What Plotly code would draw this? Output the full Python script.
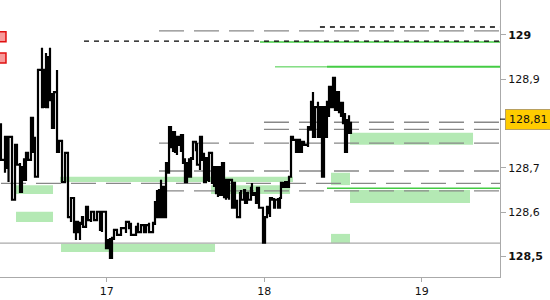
import plotly.graph_objects as go

# ---------------- data ----------------
# bar times in hours since 16th 00:00
bar_hour = [7.89, 8.50, 8.81, 9.04, 9.57, 10.03, 10.33, 10.79, 11.09, 11.40, 11.70, 12.01, 12.46, 12.77, 13.07,
            13.53, 14.14, 14.45, 14.75, 15.06, 15.36, 15.66, 15.97, 16.43, 16.73, 17.19, 17.65, 18.10, 18.56,
            19.02, 19.32, 19.63, 19.93, 20.24, 20.39, 20.85, 21.15, 21.61, 22.07, 22.52, 22.98, 23.28, 23.89,
            24.20, 24.50, 24.81, 25.11, 25.57, 26.18, 26.94, 27.40, 27.70, 28.47, 28.77, 29.23, 29.69, 29.99,
            30.45, 31.06, 31.36, 31.67, 31.97, 32.28, 32.58, 32.73, 33.04, 33.34, 33.50, 33.80, 34.11, 34.41,
            34.71, 35.02, 35.32, 35.63, 35.93, 36.24, 36.54, 36.85, 37.15, 37.61, 37.76, 38.22, 38.52, 38.83,
            39.13, 39.29, 39.59, 40.05, 40.35, 40.66, 40.96, 41.27, 41.57, 41.88, 42.18, 42.33, 42.64, 43.10,
            43.25, 43.55, 43.86, 44.32, 44.47, 44.93, 45.08, 45.38, 45.54, 45.99, 46.14, 46.45, 46.75, 46.91,
            47.21, 47.82, 48.13, 48.43, 48.58, 48.89, 49.19, 49.50, 49.65, 50.11, 50.41, 50.56, 50.87, 51.17,
            51.48, 51.78, 52.09, 52.39, 52.85, 53.16, 53.46, 53.76, 54.07, 54.68, 54.98, 55.14, 55.44, 55.75,
            56.20, 56.51, 56.81, 57.12, 57.42, 57.57, 57.88, 58.18, 58.49, 58.79, 59.10, 59.40, 59.71, 60.01,
            60.32, 60.62, 60.93, 61.23]
bar_high = [128.801, 128.770, 128.747, 128.770, 128.770, 128.752, 128.752, 128.711, 128.702, 128.722, 128.734,
            128.734, 128.813, 128.752, 128.770, 128.921, 128.971, 128.921, 128.959, 128.950, 128.971, 128.869,
            128.871, 128.921, 128.761, 128.747, 128.734, 128.702, 128.632, 128.587, 128.578, 128.567, 128.576,
            128.589, 128.589, 128.612, 128.598, 128.601, 128.601, 128.601, 128.601, 128.601, 128.553, 128.537,
            128.542, 128.542, 128.560, 128.560, 128.564, 128.578, 128.571, 128.576, 128.567, 128.576, 128.571,
            128.571, 128.571, 128.576, 128.576, 128.623, 128.650, 128.650, 128.673, 128.657, 128.657, 128.711,
            128.711, 128.792, 128.763, 128.781, 128.781, 128.770, 128.763, 128.774, 128.725, 128.722, 128.711,
            128.722, 128.722, 128.759, 128.759, 128.756, 128.770, 128.734, 128.734, 128.722, 128.722, 128.734,
            128.702, 128.702, 128.680, 128.702, 128.673, 128.711, 128.680, 128.673, 128.673, 128.673, 128.668,
            128.666, 128.632, 128.628, 128.643, 128.650, 128.650, 128.646, 128.643, 128.646, 128.655, 128.666,
            128.643, 128.643, 128.655, 128.632, 128.589, 128.589, 128.612, 128.612, 128.632, 128.632, 128.632,
            128.628, 128.632, 128.632, 128.666, 128.668, 128.668, 128.668, 128.680, 128.770, 128.770, 128.759,
            128.763, 128.759, 128.759, 128.756, 128.792, 128.792, 128.849, 128.871, 128.837, 128.849, 128.837,
            128.837, 128.837, 128.801, 128.849, 128.883, 128.883, 128.903, 128.871, 128.871, 128.860, 128.847,
            128.824, 128.824, 128.808, 128.819, 128.804]
bar_low = [128.718, 128.689, 128.700, 128.668, 128.628, 128.673, 128.707, 128.646, 128.657, 128.673, 128.700,
           128.718, 128.729, 128.736, 128.680, 128.680, 128.837, 128.835, 128.837, 128.932, 128.853, 128.790,
           128.853, 128.736, 128.740, 128.668, 128.668, 128.589, 128.578, 128.555, 128.537, 128.555, 128.537,
           128.571, 128.567, 128.571, 128.582, 128.578, 128.582, 128.587, 128.560, 128.555, 128.519, 128.519,
           128.497, 128.533, 128.537, 128.549, 128.553, 128.553, 128.564, 128.549, 128.555, 128.555, 128.560,
           128.555, 128.555, 128.555, 128.571, 128.571, 128.589, 128.589, 128.589, 128.589, 128.589, 128.650,
           128.689, 128.711, 128.747, 128.736, 128.736, 128.729, 128.752, 128.736, 128.711, 128.668, 128.691,
           128.680, 128.680, 128.718, 128.740, 128.707, 128.695, 128.718, 128.668, 128.680, 128.673, 128.668,
           128.666, 128.657, 128.643, 128.634, 128.639, 128.643, 128.634, 128.628, 128.634, 128.628, 128.610,
           128.610, 128.610, 128.589, 128.610, 128.628, 128.646, 128.621, 128.621, 128.628, 128.639, 128.639,
           128.639, 128.621, 128.628, 128.610, 128.531, 128.589, 128.589, 128.598, 128.589, 128.628, 128.610,
           128.610, 128.610, 128.632, 128.632, 128.657, 128.664, 128.657, 128.668, 128.680, 128.763, 128.736,
           128.759, 128.736, 128.736, 128.752, 128.747, 128.786, 128.786, 128.770, 128.779, 128.770, 128.786,
           128.680, 128.770, 128.770, 128.770, 128.815, 128.837, 128.853, 128.831, 128.847, 128.826, 128.815,
           128.801, 128.736, 128.779, 128.779, 128.790]

last_price = 128.81

# horizontal levels
support_price = 128.530
gray_levels = [129.009, 128.803, 128.787, 128.756, 128.693, 128.665, 128.648]
gray_start = [31.97, 47.97, 47.97, 31.97, 31.97, 7.89, 31.97]
black_levels = [128.986, 129.018]
black_start = [20.54, 56.50]
green_levels = [128.984, 128.928, 128.928, 128.654]
green_start = [47.36, 49.65, 57.57, 57.57]
green_end = [84.0, 57.57, 84.0, 84.0]

# green zones
zone_t0 = [10.18, 10.18, 17.04, 16.88, 39.90, 58.18, 61.08, 58.18, 61.08]
zone_t1 = [15.82, 15.82, 40.51, 52.39, 51.94, 61.08, 79.37, 61.08, 79.83]
zone_lo = [128.641, 128.578, 128.510, 128.668, 128.641, 128.661, 128.621, 128.530, 128.752]
zone_hi = [128.661, 128.601, 128.529, 128.680, 128.661, 128.689, 128.650, 128.551, 128.779]

# red markers
alert_hour = [7.89, 7.89]
alert_price = [128.996, 128.948]

# axes
x_ticks = [24, 48, 72]
x_labels = ["17", "18", "19"]
y_ticks = [129.0, 128.9, 128.7, 128.6, 128.5]
y_labels = ["<b>129</b>", "128,9", "128,7", "128,6", "<b>128,5</b>"]

X_MIN, X_MAX = 7.74, 83.94
Y_MIN, Y_MAX = 128.4537, 129.0789

# ---------------- figure ----------------
fig = go.Figure()

for t0, t1, lo, hi in zip(zone_t0, zone_t1, zone_lo, zone_hi):
    fig.add_shape(type="rect", xref="x", yref="y", x0=t0, x1=t1, y0=lo, y1=hi,
                  fillcolor="#b4e9b4", line_width=0, layer="below")

fig.add_trace(go.Scatter(x=[X_MIN, 84.0], y=[support_price] * 2, mode="lines",
                         line=dict(color="#aaaaaa", width=1.2), hoverinfo="skip"))

for p, s in zip(gray_levels, gray_start):
    fig.add_trace(go.Scatter(x=[s, 84.0], y=[p, p], mode="lines",
                             line=dict(color="#888888", width=1.3, dash="25px,10px"), hoverinfo="skip"))

green_w = [1.5, 1, 2, 1.5]
for p, s, e, w in zip(green_levels, green_start, green_end, green_w):
    fig.add_trace(go.Scatter(x=[s, e], y=[p, p], mode="lines",
                             line=dict(color="#44cc44", width=w), hoverinfo="skip"))

for p, s in zip(black_levels, black_start):
    fig.add_trace(go.Scatter(x=[s, 84.0], y=[p, p], mode="lines",
                             line=dict(color="#000000", width=1.4, dash="5px,5px"), hoverinfo="skip"))

# price path built from bar ranges
path_t, path_p = [], []
prev = None
for t, lo, hi in zip(bar_hour, bar_low, bar_high):
    if prev is None or abs(prev - hi) < abs(prev - lo):
        first, second = hi, lo
    else:
        first, second = lo, hi
    path_t += [t, t]
    path_p += [first, second]
    prev = second

fig.add_trace(go.Scatter(x=path_t, y=path_p, mode="lines", line_shape="hv",
                         line=dict(color="#000000", width=2.2)))

fig.add_trace(go.Scatter(x=alert_hour, y=alert_price, mode="markers",
                         marker=dict(symbol="square", size=10, color="#f79a9a",
                                     line=dict(color="#e01010", width=1.5))))

# last price marker
fig.add_shape(type="line", xref="paper", yref="y", x0=1.0, x1=1.01, y0=last_price, y1=last_price,
              line=dict(color="#000000", width=1))
fig.add_annotation(xref="paper", yref="y", x=1.0, y=last_price, xanchor="left", yanchor="middle",
                   xshift=5, text="128,81", showarrow=False,
                   font=dict(family="DejaVu Sans", size=11, color="#111111"),
                   bgcolor="#ffcc00", bordercolor="#b8a060", borderwidth=1, borderpad=3)

fig.update_layout(
    width=550, height=300, margin=dict(l=0, r=50, t=0, b=23),
    paper_bgcolor="white", plot_bgcolor="white", showlegend=False,
    font=dict(family="DejaVu Sans", size=11, color="#111111"),
    xaxis=dict(range=[X_MIN, X_MAX], tickvals=x_ticks, ticktext=x_labels, showgrid=False,
               zeroline=False, showline=True, linecolor="#aaaaaa", linewidth=1,
               ticks="outside", ticklen=4, tickcolor="#aaaaaa"),
    yaxis=dict(range=[Y_MIN, Y_MAX], side="right", tickvals=y_ticks, ticktext=y_labels,
               showgrid=False, zeroline=False, showline=True, linecolor="#aaaaaa", linewidth=1,
               ticks="outside", ticklen=5, tickcolor="#aaaaaa"),
)

fig.write_html("out.html")
